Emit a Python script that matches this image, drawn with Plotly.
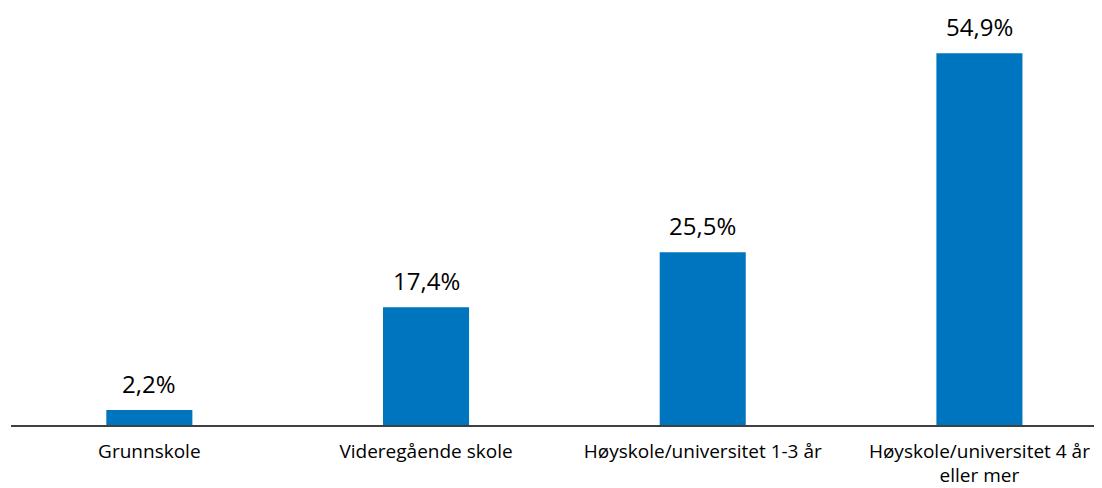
import plotly.graph_objects as go

categories = ["Grunnskole", "Videregående skole", "Høyskole/universitet 1-3 år", "Høyskole/universitet 4 år<br>eller mer"]
values = [2.2, 17.4, 25.5, 54.9]
value_labels = ["2,2%", "17,4%", "25,5%", "54,9%"]

FONT = "Open Sans"

fig = go.Figure()
fig.add_trace(go.Bar(
    x=list(range(len(categories))), y=values,
    marker=dict(color="#0075BF", line=dict(width=0)),
    width=0.311,
    hoverinfo="skip",
))
for i, (v, t) in enumerate(zip(values, value_labels)):
    fig.add_annotation(x=i, y=v, text=t, showarrow=False, yanchor="bottom", yshift=8,
                       font=dict(size=24, color="#000000", family=FONT))

fig.update_layout(
    width=1094, height=480,
    margin=dict(l=3, r=0, t=12, b=63, autoexpand=False),
    paper_bgcolor="white", plot_bgcolor="white",
    showlegend=False,
    font=dict(family=FONT, color="#000000"),
    xaxis=dict(range=[-0.5, 3.443], tickmode="array", tickvals=list(range(len(categories))),
               ticktext=categories, showgrid=False, zeroline=False, showline=True,
               linecolor="#404040", linewidth=1.5, ticks="", ticklabelstandoff=8,
               automargin=False,
               tickfont=dict(size=19, color="#000000")),
    yaxis=dict(range=[0, 59.8], visible=False, showgrid=False, zeroline=False, automargin=False),
)
fig.write_html("out.html")
